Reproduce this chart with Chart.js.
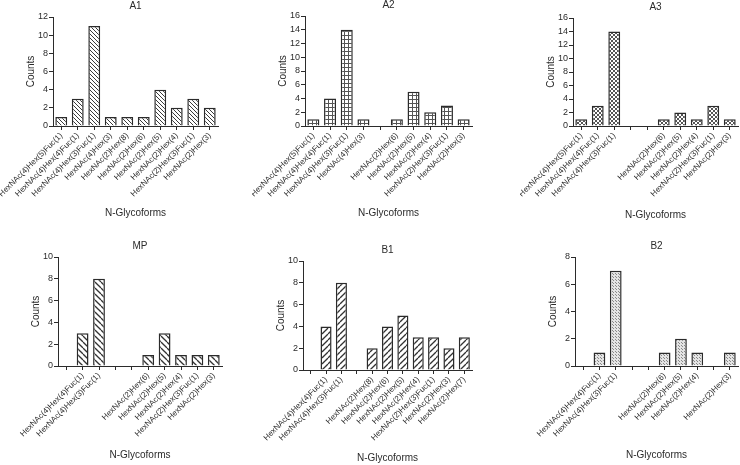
<!DOCTYPE html>
<html>
<head>
<meta charset="utf-8">
<script src="https://cdn.jsdelivr.net/npm/chart.js@4.4.1/dist/chart.umd.min.js"></script>
<style>
  html, body { margin: 0; padding: 0; background: #fff; overflow: hidden; }
  body { width: 740px; height: 465px; position: relative; }
  .panel { position: absolute; }
</style>
</head>
<body>
<script>
// categories / counts per sample ('' = empty slot with tick only)
const a1Labels = ['HexNAc(4)Hex(5)Fuc(1)', 'HexNAc(4)Hex(4)Fuc(1)', 'HexNAc(4)Hex(3)Fuc(1)', 'HexNAc(4)Hex(3)',
  'HexNAc(2)Hex(8)', 'HexNAc(2)Hex(6)', 'HexNAc(2)Hex(5)', 'HexNAc(2)Hex(4)', 'HexNAc(2)Hex(3)Fuc(1)', 'HexNAc(2)Hex(3)'];
const a1Counts = [1, 3, 11, 1, 1, 1, 4, 2, 3, 2];

const a2Labels = ['HexNAc(4)Hex(5)Fuc(1)', 'HexNAc(4)Hex(4)Fuc(1)', 'HexNAc(4)Hex(3)Fuc(1)', 'HexNAc(4)Hex(3)',
  '', 'HexNAc(2)Hex(6)', 'HexNAc(2)Hex(5)', 'HexNAc(2)Hex(4)', 'HexNAc(2)Hex(3)Fuc(1)', 'HexNAc(2)Hex(3)'];
const a2Counts = [1, 4, 14, 1, null, 1, 5, 2, 3, 1];

const a3Labels = ['HexNAc(4)Hex(5)Fuc(1)', 'HexNAc(4)Hex(4)Fuc(1)', 'HexNAc(4)Hex(3)Fuc(1)', '', '',
  'HexNAc(2)Hex(6)', 'HexNAc(2)Hex(5)', 'HexNAc(2)Hex(4)', 'HexNAc(2)Hex(3)Fuc(1)', 'HexNAc(2)Hex(3)'];
const a3Counts = [1, 3, 14, null, null, 1, 2, 1, 3, 1];

const mpLabels = ['', 'HexNAc(4)Hex(4)Fuc(1)', 'HexNAc(4)Hex(3)Fuc(1)', '', '',
  'HexNAc(2)Hex(6)', 'HexNAc(2)Hex(5)', 'HexNAc(2)Hex(4)', 'HexNAc(2)Hex(3)Fuc(1)', 'HexNAc(2)Hex(3)'];
const mpCounts = [null, 3, 8, null, null, 1, 3, 1, 1, 1];

const b1Labels = ['', 'HexNAc(4)Hex(4)Fuc(1)', 'HexNAc(4)Hex(3)Fuc(1)', '', 'HexNAc(2)Hex(8)',
  'HexNAc(2)Hex(6)', 'HexNAc(2)Hex(5)', 'HexNAc(2)Hex(4)', 'HexNAc(2)Hex(3)Fuc(1)', 'HexNAc(2)Hex(3)', 'HexNAc(2)Hex(7)'];
const b1Counts = [null, 4, 8, null, 2, 4, 5, 3, 3, 2, 3];

const b2Labels = ['', 'HexNAc(4)Hex(4)Fuc(1)', 'HexNAc(4)Hex(3)Fuc(1)', '', '',
  'HexNAc(2)Hex(6)', 'HexNAc(2)Hex(5)', 'HexNAc(2)Hex(4)', '', 'HexNAc(2)Hex(3)'];
const b2Counts = [null, 1, 7, null, null, 1, 2, 1, null, 1];

// y axis maxima
const yMaxes = { A1: 12, A2: 16, A3: 16, MP: 10, B1: 10, B2: 8 };

const FONT = 'Liberation Sans, Arial, sans-serif';
const INK = '#2b2b2b';

function makePattern(kind) {
  const s = kind.size;
  const c = document.createElement('canvas');
  c.width = s; c.height = s;
  const g = c.getContext('2d');
  g.fillStyle = kind.bg || '#fff';
  g.fillRect(0, 0, s, s);
  g.strokeStyle = kind.line || '#333';
  g.fillStyle = kind.line || '#333';
  g.lineWidth = kind.width || 1;
  const diag = (dir) => {
    for (let k = -s; k <= s; k += s) {
      g.beginPath();
      if (dir === 'back') { g.moveTo(k, 0); g.lineTo(k + s, s); }
      else { g.moveTo(k, s); g.lineTo(k + s, 0); }
      g.stroke();
    }
  };
  if (kind.type === 'back' || kind.type === 'fwd') diag(kind.type);
  if (kind.type === 'cross') { diag('back'); diag('fwd'); }
  if (kind.type === 'grid') {
    g.fillRect(0, 0, s, 1);
    g.fillRect(0, 0, 1, s);
  }
  if (kind.type === 'dots') {
    g.fillRect(0, 0, 1, 1);
    g.fillRect(Math.floor(s / 2), Math.floor(s / 2), 1, 1);
  }
  return g.createPattern(c, 'repeat');
}

const panels = [
  { title: 'A1', labels: a1Labels, counts: a1Counts, pat: { type: 'back', size: 4, line: '#3a3a3a' },
    area: { left: 53, top: 17, right: 218, bottom: 126 }, xTitleY: 213 },
  { title: 'A2', labels: a2Labels, counts: a2Counts, pat: { type: 'grid', size: 4, line: '#555' },
    area: { left: 305, top: 16, right: 472, bottom: 126 }, xTitleY: 213 },
  { title: 'A3', labels: a3Labels, counts: a3Counts, pat: { type: 'cross', size: 4, line: '#555' },
    area: { left: 573, top: 18, right: 738, bottom: 126 }, xTitleY: 215 },
  { title: 'MP', labels: mpLabels, counts: mpCounts, pat: { type: 'back', size: 6, line: '#333', width: 1.3 },
    area: { left: 58, top: 257, right: 222, bottom: 366 }, xTitleY: 455 },
  { title: 'B1', labels: b1Labels, counts: b1Counts, pat: { type: 'fwd', size: 6, line: '#333', width: 1.3 },
    area: { left: 303, top: 261, right: 472, bottom: 370 }, xTitleY: 458 },
  { title: 'B2', labels: b2Labels, counts: b2Counts, pat: { type: 'dots', size: 3, bg: '#e4e4e4', line: '#8a8a8a' },
    area: { left: 575, top: 257, right: 738, bottom: 366 }, xTitleY: 455 }
];

panels.forEach(p => {
  const px = p.area.left - 53;
  const py = p.area.top - 17;
  const W = p.area.right - px + 2;
  const H = p.xTitleY - py + 10;
  const xAxisH = H - (p.area.bottom - py);

  const div = document.createElement('div');
  div.className = 'panel';
  div.style.left = px + 'px';
  div.style.top = py + 'px';
  div.style.width = W + 'px';
  div.style.height = H + 'px';
  const canvas = document.createElement('canvas');
  canvas.width = W; canvas.height = H;
  canvas.style.width = W + 'px'; canvas.style.height = H + 'px';
  div.appendChild(canvas);
  document.body.appendChild(div);

  new Chart(canvas, {
    type: 'bar',
    data: {
      labels: p.labels,
      datasets: [{
        data: p.counts,
        backgroundColor: makePattern(p.pat),
        borderColor: INK,
        borderWidth: 1.5,
        categoryPercentage: 1,
        barPercentage: 0.72
      }]
    },
    options: {
      responsive: false,
      animation: false,
      layout: { padding: { left: 18, right: 2, top: 0, bottom: 0 } },
      plugins: {
        legend: { display: false },
        tooltip: { enabled: false },
        title: {
          display: true, text: p.title, fullSize: false, color: INK,
          font: { family: FONT, size: 10, weight: 'normal' },
          padding: { top: 0, bottom: 5 }
        }
      },
      scales: {
        x: {
          grid: { display: true, drawOnChartArea: false, offset: false, tickLength: 4, color: INK },
          border: { display: true, color: INK, width: 1 },
          ticks: {
            autoSkip: false, minRotation: 45, maxRotation: 45, padding: 1, color: INK,
            font: { family: FONT, size: 8 }
          },
          title: {
            display: true, text: 'N-Glycoforms', color: INK,
            font: { family: FONT, size: 10 }, padding: { top: 0, bottom: 4 }
          },
          afterFit: s => { s.height = xAxisH; s.paddingLeft = 0; s.paddingRight = 0; }
        },
        y: {
          min: 0, max: yMaxes[p.title],
          grid: { display: true, drawOnChartArea: false, tickLength: 4, color: INK },
          border: { display: true, color: INK, width: 1 },
          ticks: { stepSize: 2, autoSkip: false, padding: 1, color: INK, font: { family: FONT, size: 9 } },
          title: {
            display: true, text: 'Counts', color: INK,
            font: { family: FONT, size: 10 }, padding: { top: 7, bottom: 0 }
          },
          afterFit: s => { s.width = 35; s.paddingTop = 0; s.paddingBottom = 0; }
        }
      }
    }
  });
});
</script>
</body>
</html>
